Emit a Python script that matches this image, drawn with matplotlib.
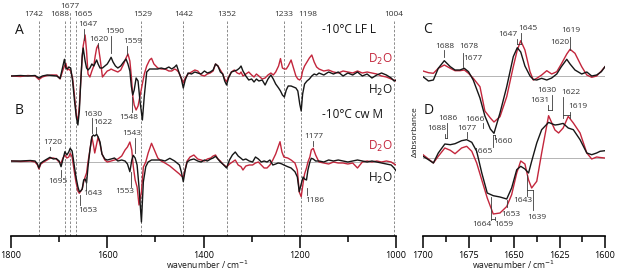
import numpy as np
import matplotlib
matplotlib.use('Agg')
import matplotlib.pyplot as plt

plt.rcParams['font.family'] = ['Open Sans', 'DejaVu Sans']

# difference spectra, values are offsets from each trace's baseline
wn_A = [1800, 1780, 1765, 1750, 1742, 1735, 1725, 1715, 1705, 1698, 1692, 1689, 1686,
        1683, 1680, 1676, 1672, 1668, 1664, 1661, 1658, 1655, 1652, 1650, 1646, 1643,
        1640, 1636, 1632, 1628, 1625, 1622, 1619, 1615, 1610, 1605, 1600, 1595, 1592,
        1588, 1583, 1578, 1572, 1566, 1561, 1557, 1553, 1550, 1547, 1544, 1540, 1536,
        1532, 1527, 1523, 1518, 1512, 1508, 1503, 1495, 1488, 1480, 1472, 1466, 1460,
        1456, 1452, 1446, 1442, 1438, 1432, 1425, 1418, 1412, 1405, 1398, 1392, 1386,
        1380, 1375, 1370, 1365, 1360, 1356, 1352, 1348, 1342, 1336, 1330, 1325, 1322,
        1318, 1312, 1306, 1300, 1295, 1290, 1285, 1278, 1272, 1266, 1260, 1255, 1250,
        1244, 1240, 1236, 1232, 1228, 1224, 1218, 1213, 1208, 1204, 1200, 1197, 1194,
        1190, 1185, 1180, 1175, 1170, 1165, 1160, 1150, 1140, 1130, 1120, 1110, 1100,
        1090, 1080, 1070, 1060, 1050, 1040, 1030, 1020, 1010, 1004, 1000]
A_h2o = [0, 0.5, 0, 0.5, -2, 0, 1, 0.5, 0, -2.5, 10, 16.7, 8,
         7, 9, 8, -5, -25, -42, -49, -35, -5, 20, 28, 15, 8,
         6, 8, 12, 10, 13, 16, 12, 8, 8, 10, 12, 16, 18.7,
         14, 10, 8, 10, 14, 17, 12, 5, -10, -19, -14, -2, -5,
         -25, -44, -20, 4, 7, 7, 7, 7, 8, 7, 9, 7, 9,
         11, 5, -3, -12, -4, 3, 2, 4, 3, 2, 5, 3, 4,
         6, 12, 10, 4, 2, -5, -9, -2, 4, 5, 6, 8, 10,
         5, 0, -4, -3, -6, -3, -5, -4, -9, -3, 1, -3, -8,
         -12, -15, -19, -21, -14, -10, -10, -11, -12, -15, -28, -35, -18,
         -8, -5, -3, 0, 2, 1, 3, 1, 4, 2, 4, 0, 3,
         1, 4, 0, 2, -2, 1, 3, 1, -2, -5, -4]
A_d2o = [0, -0.5, 0.5, 0, -3.5, -1, 0.5, 1, 1, -3, 6, 10, 12.7,
         6, 7, 5, -2, -20, -40, -44, -30, -5, 20, 30, 41, 25,
         2, -1, 5, 10, 20, 28, 31, 18, -1, 2, 5, 6, 7,
         6, 5, 4, 6, 12, 18, 22, 15, 0, -20, -29, -34, -30,
         -20, -8, 2, 10, 16, 17.7, 12, 8, 7, 7, 5, 5, 7,
         6, 4, -2, -7, -2, 2, 4, 6, 5, 1, 0, 2, 3,
         5, 12, 10, 6, 2, -3, -5.7, -1, 4, 6, 3, 2, 4,
         0, 2, 4, 1, -1, 2, 0, -3, -2, 1, 3, 1, 4,
         10, 17.4, 8, 7, 7, 10, 16, 8, 0, -3, -4, -2, 5,
         10, 14, 18, 21, 14, 9, 7, 5, 6, 4, 3, 5, 4,
         3, 5, 3, 4, 3, 2, 0, -1, -3, -4, -5]

wn_B = [1800, 1780, 1760, 1750, 1745, 1742, 1738, 1732, 1725, 1719, 1712, 1706, 1700,
        1696, 1692, 1688, 1684, 1680, 1677, 1673, 1669, 1665, 1661, 1658, 1655, 1652,
        1649, 1646, 1643, 1640, 1636, 1632, 1629, 1626, 1622, 1619, 1615, 1611, 1605,
        1600, 1592, 1585, 1578, 1570, 1563, 1558, 1553, 1549, 1546, 1542, 1538, 1534,
        1529, 1525, 1520, 1515, 1508, 1502, 1495, 1488, 1480, 1470, 1460, 1450, 1446,
        1442, 1438, 1434, 1428, 1420, 1412, 1405, 1398, 1392, 1385, 1380, 1375, 1370,
        1365, 1360, 1352, 1346, 1340, 1334, 1328, 1322, 1318, 1312, 1305, 1298, 1292,
        1286, 1280, 1274, 1268, 1262, 1256, 1250, 1245, 1241, 1237, 1233, 1225, 1218,
        1210, 1205, 1201, 1197, 1193, 1190, 1186, 1183, 1179, 1176, 1172, 1167, 1160,
        1150, 1140, 1130, 1120, 1110, 1100, 1090, 1080, 1070, 1060, 1050, 1040, 1030,
        1020, 1010, 1004, 1000]
B_h2o = [1, 1, 1.5, 1, -2, -6, -1, 1, 3, 4.7, 3, 3.5, 1,
         -4.7, 3, 10.3, 7, 10, 13.7, 11, -2, -15, -24.7, -29.7, -29, -27,
         -18, -17, -21, -5, 12, 25, 27, 26, 27.7, 25, 20, 8, 3,
         2, 3, 4, 1, 2, 1, -2, -9.7, 2, 6.7, 4, -3, -25,
         -60, -20, -4.7, 0, 2, 2, 2, 2, 1, 3.7, 1, -3, -10,
         -19.7, -8, 0, 2, 3, 1, 0, 2, 1, 3, 4, 5.7, 3,
         0, -2, -6, 2, 7, 10, 6, 3.7, 2, 3, 1, 0, 5,
         3, 0, 1, 0, 2, -3, -2, -1, -1.3, -2, -3, -4.7, -6,
         -9.7, -15, -29.7, -22, -15, -17, -18, -8, 0, 3.7, 3, 1, 1,
         0, 2, 1, 2, 1, 0, 1, 2, 1, 0, 1, 0, -1,
         -2, -3, -6, -8.7]
B_d2o = [1, 0.5, 1, 0, -3, -7, -2, 0, 2, 3.7, 4, 3, 0,
         -1, 4, 7, 4, 5, 8.7, 5, -8, -20, -29, -31.3, -29, -27,
         -20, -15, -11, 0, 12, 25, 18, 9, 18, 25, 18, 8, 2,
         0, 1, 2, 3, 6, 12, 15, 20, 12, -4, -18, -25, -43,
         -30, -5, 0, 9, 18.7, 12, 4, 1, -1, -4, -8, -12, -14,
         -15, -7, 1, 5, 7, 3, 2, 1, 3, 4, 6, 7, 3,
         1, -2, -5, -2, 0, 2, -3, -4.7, -8, -4, -3, -3, -1,
         0, -3, -6, -6, -3, 2, 8, 15, 20.3, 10, 5, 4, 2,
         -1, -8, -30, -34.7, -21, -12, -6, 0, 5, 12, 13.7, 7, 0,
         -1, -2, 0, -1, -1, -2, -1, -6, 0, 1, 0, 1, 0,
         1, 0, -2, -3]

wn_C = [1700, 1697, 1694.3, 1691.6, 1688.3, 1685, 1682.4, 1679.7, 1677.3, 1675, 1672.4,
        1668.7, 1666, 1663, 1661, 1657.7, 1654, 1650.4, 1648.2, 1646.3, 1644, 1641.2,
        1639.4, 1637.5, 1634.8, 1632, 1629.3, 1626.5, 1624, 1621, 1619.2, 1616.5,
        1612.8, 1610, 1607.3, 1604.6, 1602, 1600]
C_h2o = [-0.7, -5, -4, 7.7, 15.3, 9.3, 6, 6, 7.7, 4.3, -4,
         -22, -40, -53, -57.3, -37, -10.7, 19.3, 28.3, 24, 10, 0,
         -3.5, -4, -2.3, -4, -2, 2, 9.3, 16.7, 12, 6,
         2, 4, 0, 1, 4.3, 9.3]
C_d2o = [5, 3.3, 2.7, 7.7, 11, 7.7, 5.3, 5.3, 6, 2.7, -2.3,
         -10.7, -35, -42, -46, -40.7, -20.7, 9.3, 26, 35.3, 26, 4.3,
         -4, -2.3, 1, 5.3, 2, 4.3, 12, 22, 26.7, 22.7,
         9.3, 1, -1.3, 0, 5, 9.3]

wn_D = [1700, 1697, 1694.3, 1691.6, 1688, 1685, 1682.4, 1678.8, 1676, 1673.2, 1670.5,
        1667.7, 1664.7, 1661.4, 1657.7, 1654, 1651.3, 1648.5, 1646.3, 1644, 1642,
        1640.3, 1637.5, 1634.8, 1631, 1627.5, 1625.5, 1623, 1620.2, 1617.4, 1613.7,
        1610, 1607.3, 1604.6, 1602.7, 1600]
D_h2o = [1.7, -1.7, -5, 5, 14, 13.3, 14.3, 17.3, 18.3, 15.7, 6.7,
         -15, -35, -37.7, -39, -41, -30, -11.7, -8.3, -11, -15,
         -3.3, 15, 28.3, 35.6, 33, 33.5, 34.6, 30, 28.3, 18.3,
         5, 3.3, 5, 6.7, 7.3]
D_d2o = [3.3, -1, -5, 1.7, 10, 7.7, 4.3, 10, 11.7, 6.7, -5,
         -22, -40, -56, -55, -48.5, -36.7, -15, -3, -6, -22,
         -30, -23.3, 5, 42.3, 28, 25, 30, 41.6, 35, 25,
         5, -1, 1, 0.5, 0]

marked_left = [1742, 1688, 1677, 1665, 1529, 1442, 1352, 1233, 1198, 1004]

red = '#c3263c'
blk = '#161616'
lab_c = '#333333'

fig = plt.figure(figsize=(6.17, 2.71), dpi=100)
W, H = 617.0, 271.0
ax1 = fig.add_axes([11 / W, 1 - 236 / H, 385 / W, 236 / H])
ax2 = fig.add_axes([423 / W, 1 - 236 / H, 182 / W, 236 / H])

for ax in (ax1, ax2):
    for s in ('top', 'left', 'right'):
        ax.spines[s].set_visible(False)
    ax.spines['bottom'].set_linewidth(1.2)
    ax.set_yticks([])
    ax.patch.set_alpha(0)
    ax.set_ylim(-236, 0)
    ax.tick_params(axis='x', which='major', length=8.5, width=1.1, labelsize=6.5, pad=2)
    ax.tick_params(axis='x', which='minor', length=4.3, width=1.1)

ax1.set_xlim(1800, 1000)
ax1.set_xticks([1800, 1600, 1400, 1200, 1000])
ax1.set_xticks([1700, 1500, 1300, 1100], minor=True)
ax2.set_xlim(1700, 1600)
ax2.set_xticks([1700, 1675, 1650, 1625, 1600])
ax2.set_xticks([1687.5, 1662.5, 1637.5, 1612.5], minor=True)

# axis titles placed by hand so they stay inside the small canvas
fig.text(207.5 / W, 1 - 264.5 / H, 'wavenumber / cm$^{-1}$', fontsize=6.2,
         ha='center', va='center', color=blk)
fig.text(514 / W, 1 - 264.5 / H, 'wavenumber / cm$^{-1}$', fontsize=6.2,
         ha='center', va='center', color=blk)


def px_wn(x):
    # left panel pixel column -> wavenumber
    return 1800 - (x - 11) * 800 / 385.0


def px_wn2(x):
    return 1700 - (x - 423) * 100 / 182.0


# dashed marker lines
for w in marked_left:
    top = -11 if w == 1677 else -20
    ax1.plot([w, w], [-236, top], ls=(0, (3, 2)), color='#7a7a7a', lw=0.6, zorder=1)
lab_x = {1742: px_wn(33.3), 1688: px_wn(60), 1677: 1677, 1665: px_wn(82.8), 1529: px_wn(143),
         1442: 1442, 1352: 1352, 1233: 1233, 1198: px_wn(307.5), 1004: 1004}
for w in marked_left:
    yy = -6 if w == 1677 else -15
    ax1.text(lab_x[w], yy, str(w), fontsize=6, ha='center', va='center', color=lab_c)

# baselines
baseA, baseB, baseC, baseD = -76, -162, -76, -158
for b in (baseA, baseB):
    ax1.plot([1800, 1000], [b, b], color='#b4b4b4', lw=0.7, zorder=1)
for b in (baseC, baseD):
    ax2.plot([1700, 1600], [b, b], color='#b4b4b4', lw=0.7, zorder=1)

lw = 1.0
ax1.plot(wn_A, baseA + np.array(A_d2o), color=red, lw=lw, zorder=3)
ax1.plot(wn_A, baseA + np.array(A_h2o), color=blk, lw=lw, zorder=4)
ax1.plot(wn_B, baseB + np.array(B_d2o), color=red, lw=lw, zorder=3)
ax1.plot(wn_B, baseB + np.array(B_h2o), color=blk, lw=lw, zorder=4)
ax2.plot(wn_C, baseC + np.array(C_d2o), color=red, lw=lw, zorder=3)
ax2.plot(wn_C, baseC + np.array(C_h2o), color=blk, lw=lw, zorder=4)
ax2.plot(wn_D, baseD + np.array(D_d2o), color=red, lw=lw, zorder=3)
ax2.plot(wn_D, baseD + np.array(D_h2o), color=blk, lw=lw, zorder=4)


def mark(ax, x, y0, y1):
    ax.plot([x, x], [-y0, -y1], color='#3a3a3a', lw=0.6, zorder=5)


def hmark(ax, x0, x1, y):
    ax.plot([x0, x1], [-y, -y], color='#3a3a3a', lw=0.6, zorder=5)


# left panel peak labels (text, text x px, text y px, tick x px, tick y0, tick y1)
left_labels = [('1647', 88, 25, 84.3, 29.3, 40), ('1620', 99, 39.3, 97.7, 43.3, 48.3),
               ('1590', 115, 31.7, 111, 36, 53), ('1559', 132.5, 41.7, 126.7, 46, 55),
               ('1548', 128.7, 117.3, 132.3, 96.7, 111.7),
               ('1630', 93.3, 114, 92.3, 118, 133), ('1622', 103.3, 122.7, 96, 127, 133),
               ('1720', 52.5, 142.7, 50, 146.7, 150), ('1695', 58.3, 181.7, 61, 170, 176.7),
               ('1643', 93, 193.3, 85.7, 176.7, 190), ('1653', 87.5, 210, 80, 195, 205),
               ('1553', 125, 191.7, 130.7, 171.7, 186.7), ('1543', 132, 133.3, 135, 138, 153),
               ('1177', 313.8, 136, 312.7, 140.7, 146), ('1186', 315, 200, 306.7, 188.3, 195)]
for t, tx, ty, kx, k0, k1 in left_labels:
    ax1.text(px_wn(tx), -ty, t, fontsize=6, ha='center', va='center', color=lab_c)
    mark(ax1, px_wn(kx), k0, k1)

ax1.text(px_wn(15), -30.5, 'A', fontsize=10, ha='left', va='center', color=blk)
ax1.text(px_wn(15), -110.5, 'B', fontsize=10, ha='left', va='center', color=blk)
ax1.text(px_wn(322), -29.5, '-10°C LF L', fontsize=8.5, ha='left', va='center', color=blk)
ax1.text(px_wn(322), -115, '-10°C cw M', fontsize=8.5, ha='left', va='center', color=blk)
for yy, t, c in [(59, 'D$_2$O', red), (90, 'H$_2$O', blk), (146.7, 'D$_2$O', red), (178.3, 'H$_2$O', blk)]:
    ax1.text(px_wn(368), -yy, t, fontsize=8.5, ha='left', va='center', color=c)

# right panel labels
right_labels = [('1688', 444.7, 46.7), ('1678', 468.7, 46.7), ('1677', 472.8, 58.3),
                ('1647', 508, 35), ('1645', 527.8, 28.3), ('1619', 570.8, 30.7),
                ('1620', 559.5, 42.7), ('1630', 547.2, 90), ('1622', 570.8, 92.7),
                ('1619', 577.5, 106), ('1686', 447.5, 119), ('1688', 436.7, 128.3),
                ('1677', 467, 128.3), ('1666', 475, 119.3), ('1665', 483.3, 151.7),
                ('1660', 503, 141.7), ('1664', 482, 225), ('1659', 504, 225),
                ('1653', 510.5, 214.3), ('1643', 522.5, 201), ('1639', 536.7, 217.3)]
for t, tx, ty in right_labels:
    ax2.text(px_wn2(tx), -ty, t, fontsize=6, ha='center', va='center', color=lab_c)
ax2.text(px_wn2(549.5), -100.7, '1631', fontsize=6, ha='right', va='center', color=lab_c)

right_ticks = [(444.3, 50, 56.7), (462.7, 53.3, 66.7), (517.3, 39.3, 44), (520.7, 33, 44),
               (570, 36.7, 50), (551.7, 95, 110), (548.3, 105, 110), (563.3, 96.7, 118),
               (570, 112, 118), (446.7, 123, 138), (445, 134, 138), (466.7, 132, 138),
               (483, 123, 128), (492.7, 135, 147), (495, 135, 139), (490.7, 196.7, 220),
               (495, 216.7, 220), (506.7, 200, 207.3), (527.3, 175, 196), (532.7, 190, 210)]
for kx, k0, k1 in right_ticks:
    mark(ax2, px_wn2(kx), k0, k1)
for x0, x1, yy in [(517.3, 520.7, 44), (548.3, 551.7, 110), (563.3, 570, 115),
                   (445, 446.7, 138), (492.7, 495, 135), (490.7, 495, 219), (527.3, 532.7, 190)]:
    hmark(ax2, px_wn2(x0), px_wn2(x1), yy)

ax2.text(1699.8, -29.5, 'C', fontsize=10, ha='left', va='center', color=blk)
ax2.text(1699.8, -110.5, 'D', fontsize=10, ha='left', va='center', color=blk)
fig.text(415 / W, 1 - 132 / H, 'Δabsorbance', fontsize=6, rotation=90,
         ha='center', va='center', color=blk)

fig.savefig('out.png', dpi=100)
